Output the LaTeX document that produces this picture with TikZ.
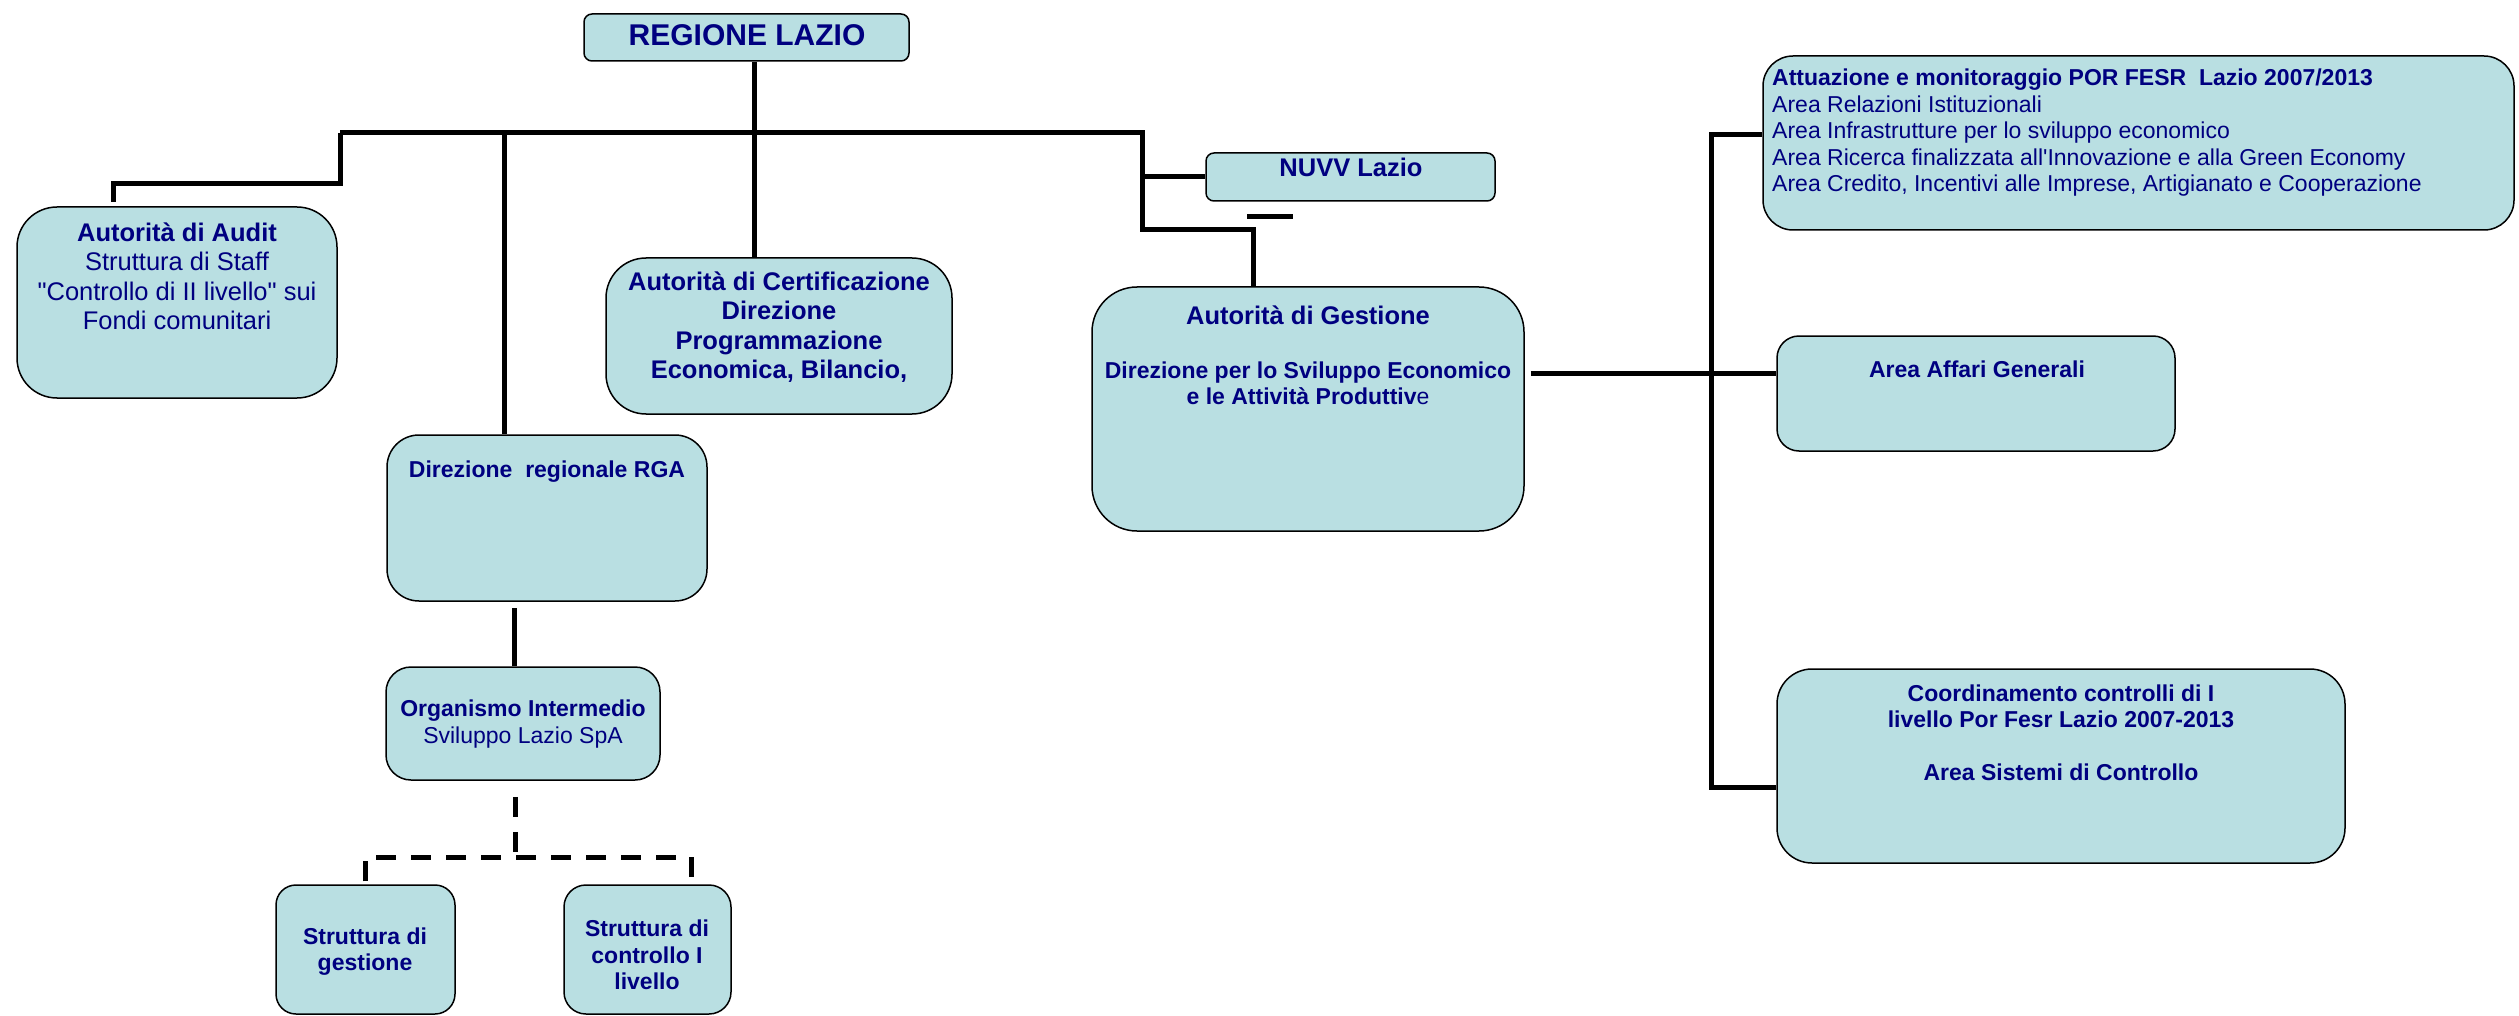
\documentclass[tikz,border=0pt]{standalone}
\usepackage{fontspec}
\setmainfont{Liberation Sans}[Ligatures=TeXOff]
\definecolor{boxfill}{RGB}{185,223,226}
\definecolor{ink}{RGB}{0,0,128}
\tikzset{
	box/.style={draw, line width=1.5pt, fill=boxfill, inner sep=0pt, rounded corners=#1},
	box/.default=30pt,
	big/.style={font=\fontsize{25.5}{29.5}\selectfont\bfseries, text=ink, align=center, inner sep=0pt},
	small/.style={font=\fontsize{23}{26.5}\selectfont\bfseries, text=ink, align=center, inner sep=0pt},
	link/.style={line width=5pt},
	dlink/.style={line width=5pt, dash pattern=on 20pt off 15pt},
}
\begin{document}
\begin{tikzpicture}[x=1pt, y=-1pt]
	\useasboundingbox (0,0) rectangle (2519,1016);
	\node[box=8pt, minimum width=325pt, minimum height=47pt] (regione) at (746.5,37.5) {};
	\node[box=40pt, minimum width=320pt, minimum height=191pt] (audit) at (177,302.5) {};
	\node[box=40pt, minimum width=346pt, minimum height=156pt] (cert) at (779,336) {};
	\node[box=32pt, minimum width=320pt, minimum height=166pt] (rga) at (547,518) {};
	\node[box=25pt, minimum width=274pt, minimum height=113pt] (org) at (523,723.5) {};
	\node[box=20pt, minimum width=179pt, minimum height=129pt] (sgest) at (365.5,949.5) {};
	\node[box=22pt, minimum width=167pt, minimum height=129pt] (scontr) at (647.5,949.5) {};
	\node[box=8pt, minimum width=289pt, minimum height=48pt] (nuvv) at (1350.5,177) {};
	\node[box=45pt, minimum width=432pt, minimum height=244pt] (gest) at (1308,409) {};
	\node[box=30pt, minimum width=751pt, minimum height=174pt] (attu) at (2138.5,143) {};
	\node[box=22pt, minimum width=398pt, minimum height=115pt] (affari) at (1976,393.5) {};
	\node[box=35pt, minimum width=568pt, minimum height=194pt] (coord) at (2061,766) {};

	\node[big, font=\fontsize{30}{34}\selectfont\bfseries] at (747,35) {REGIONE LAZIO};
	\node[big] at (177,276.5) {Autorità di Audit\\\mdseries Struttura di Staff\\\mdseries "Controllo di II livello" sui\\\mdseries Fondi comunitari};
	\node[big] at (779,327) {Autorità di Certificazione\\Direzione\\Programmazione\\Economica, Bilancio,};
	\node[small] at (547,472) {Direzione\ \ regionale RGA};
	\node[small] at (523,724) {Organismo Intermedio\\\mdseries Sviluppo Lazio SpA};
	\node[small] at (365,951.5) {Struttura di\\gestione};
	\node[small] at (647,955) {Struttura di\\controllo I\\livello};
	\node[big] at (1351,167) {NUVV Lazio};
	\node[big] at (1308,315) {Autorità di Gestione};
	\node[small] at (1308,383.5) {Direzione per lo Sviluppo Economico\\e le Attività Produttiv{\mdseries e}};
	\node[small, align=left, anchor=west] at (1772,133) {Attuazione e monitoraggio POR FESR\ \ Lazio 2007/2013\\\mdseries Area Relazioni Istituzionali\\\mdseries Area Infrastrutture per lo sviluppo economico\\\mdseries Area Ricerca finalizzata all'Innovazione e alla Green Economy\\\mdseries Area Credito, Incentivi alle Imprese, Artigianato e Cooperazione};
	\node[small] at (1977,369) {Area Affari Generali};
	\node[small] at (2061,733) {Coordinamento controlli di I\\livello Por Fesr Lazio 2007-2013\\[26.5pt]Area Sistemi di Controllo};

	\coordinate (busA) at (340,133);
	\coordinate (busR) at (504,133);
	\coordinate (busC) at (754,133);
	\coordinate (busN) at (1142,133);
	\coordinate (nuvvbend) at (1142,230);
	\coordinate (gout) at ([xshift=6pt, yshift=36pt]gest.east);
	\coordinate (railT) at (1711,135);
	\coordinate (railB) at (1711,787);
	\coordinate (dsplit) at (515,857);

	\draw[link] (busA) -- (busN) -- (nuvvbend) -| ([xshift=-55pt]gest.north);
	\draw[link] (busA) -- ++(0,51) -| ([xshift=-64pt, yshift=4pt]audit.north);
	\draw[link] (busR) -- (busR |- rga.north);
	\draw[link] (regione.south -| busC) -- (busC |- cert.north);
	\draw[link] (busN |- nuvv.west) -- (nuvv.west);
	\draw[link] (1247,217) -- (1293,217);
	\draw[link, shorten >=6pt] ([xshift=-9pt]org.north) -- ([xshift=-9pt]org.north |- rga.south);
	\draw[dlink] ([yshift=-16pt]org.south -| dsplit) -- (dsplit);
	\draw[dlink] ([yshift=3pt]sgest.north) |- (dsplit) -| ([xshift=43.5pt, yshift=3pt]scontr.north);
	\draw[link] (gout) -- (gout -| affari.west);
	\draw[link] (railT -| attu.west) -- (railT) -- (railB) -- (railB -| coord.west);
\end{tikzpicture}
\end{document}
